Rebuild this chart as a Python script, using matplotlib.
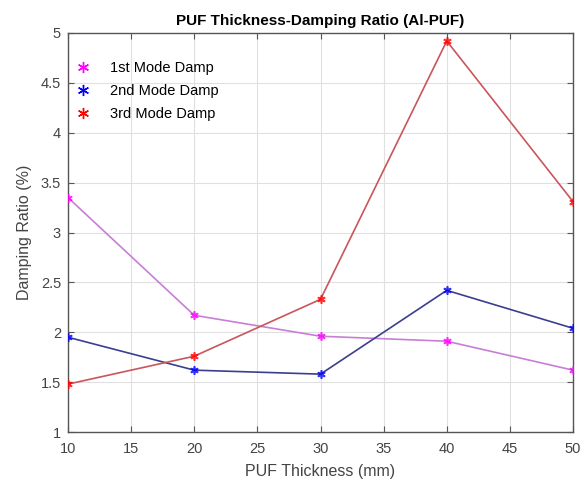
import matplotlib
matplotlib.use("Agg")
import matplotlib.pyplot as plt

plt.rcParams['font.family'] = ['Liberation Sans', 'DejaVu Sans']

thickness = [10, 20, 30, 40, 50]
mode1 = [3.35, 2.17, 1.96, 1.91, 1.62]
mode2 = [1.95, 1.62, 1.58, 2.42, 2.04]
mode3 = [1.48, 1.76, 2.33, 4.92, 3.31]
labels = ['1st Mode Damp', '2nd Mode Damp', '3rd Mode Damp']

fig = plt.figure(figsize=(5.85, 4.83), dpi=100)
ax = fig.add_axes([68/585, 1-432/483, (573-68)/585, (432-33)/483])

line_cols = ['#c77fd6', '#3a3f8f', '#c8565a']
mark_cols = ['#ff00ff', '#0000ff', '#ff0000']
for y, lc, mc, lab in zip([mode1, mode2, mode3], line_cols, mark_cols, labels):
    ax.plot(thickness, y, color=lc, lw=1.2, zorder=2)
    ax.plot(thickness, y, ls='none', marker=(6, 2, 0), ms=6, mew=1.2, color=mc, alpha=0.8, zorder=3)
    ax.plot([], [], ls='none', marker=(6, 2, 0), ms=8, mew=1.0, color=mc, label=lab)

ax.set_xlim(10, 50)
ax.set_ylim(1, 5)
ax.set_xticks(range(10, 51, 5))
ax.set_yticks([1, 1.5, 2, 2.5, 3, 3.5, 4, 4.5, 5])
ax.set_yticklabels(['1', '1.5', '2', '2.5', '3', '3.5', '4', '4.5', '5'])
ax.grid(True, color='#e0e0e0', lw=0.8)
ax.set_axisbelow(True)
ax.tick_params(direction='in', length=4, colors='#555555', labelsize=10.5, top=True, right=True,
               labelcolor='#444444')
ax.tick_params(axis='x', pad=7)
ax.tick_params(axis='y', pad=5)
for s in ax.spines.values():
    s.set_color('#555555')
    s.set_linewidth(1.0)

ax.set_xlabel('PUF Thickness (mm)', fontsize=11.5, color='#444444', labelpad=6)
ax.set_ylabel('Damping Ratio (%)', fontsize=11.5, color='#444444', labelpad=6)
ax.set_title('PUF Thickness-Damping Ratio (Al-PUF)', fontsize=11, fontweight='bold', pad=6)

leg = ax.legend(loc='upper left', frameon=False, fontsize=10.5, handlelength=1.2,
                handletextpad=1.3, labelspacing=0.62, borderaxespad=0.0,
                bbox_to_anchor=(0.0, 0.945))

fig.savefig('out.png', dpi=100)
